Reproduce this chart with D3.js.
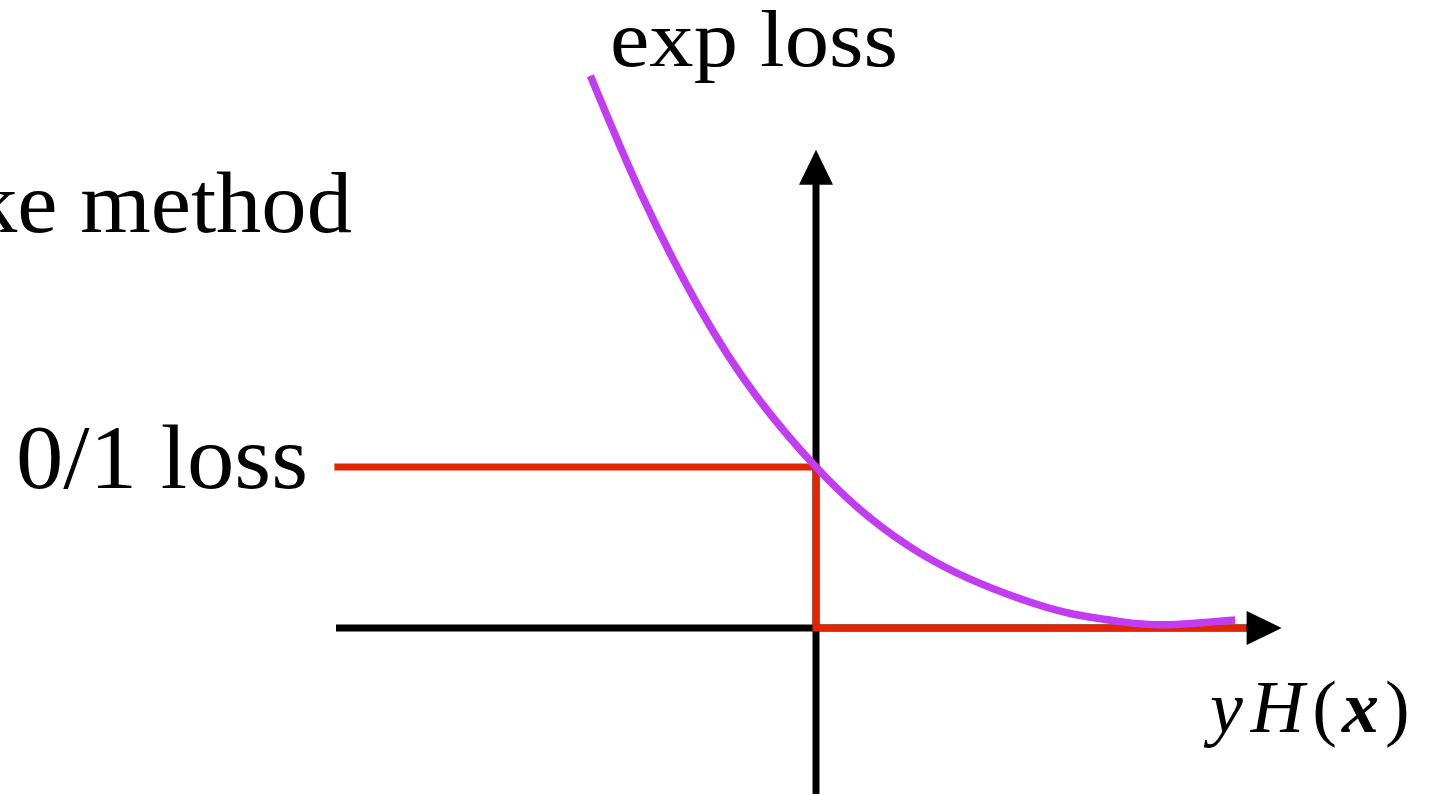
<!DOCTYPE html>
<html>
<head>
  <title>0/1 loss vs exp loss</title>
  <script src="https://d3js.org/d3.v7.min.js"></script>
  <style>
    body { margin: 0; background: #fff; }
    .label { font-family: "Liberation Serif", "Times New Roman", serif; fill: #000; }
  </style>
</head>
<body>
  <svg id="chart"></svg>
  <script>
    // series names
    var seriesNames = ["exp loss", "0/1 loss"];
    var sideLabel = "ke method";

    // exp loss curve (x = yH(x), y = loss)
    var expX = [-1.41, -1.09, -0.73, -0.38, 0, 0.33, 0.65, 0.96, 1.28, 1.59, 1.9, 2.18, 2.62];
    var expY = [3.43, 2.69, 1.99, 1.45, 1.0, 0.69, 0.465, 0.305, 0.18, 0.09, 0.04, 0.02, 0.05];

    // 0/1 loss step
    var stepX = [-3.01, 0, 0, 2.69];
    var stepY = [1, 1, 0, 0];

    // axis extents (data units)
    var xAxisRange = [-3, 2.91];
    var yAxisRange = [-1.05, 2.97];

    var width = 1433, height = 794;

    var svg = d3.select("#chart")
      .attr("width", width)
      .attr("height", height);

    var x = d3.scaleLinear().domain([-3, 3]).range([336, 1296]);
    var y = d3.scaleLinear().domain([0, 1]).range([628, 467]);

    var arrowLen = 35, arrowHalf = 17;

    // axes
    svg.append("line")
      .attr("x1", x(xAxisRange[0]))
      .attr("x2", x(xAxisRange[1]) - arrowLen + 2)
      .attr("y1", y(0)).attr("y2", y(0))
      .attr("stroke", "#000").attr("stroke-width", 7);

    svg.append("line")
      .attr("x1", x(0)).attr("x2", x(0))
      .attr("y1", y(yAxisRange[0]))
      .attr("y2", y(yAxisRange[1]) + arrowLen - 2)
      .attr("stroke", "#000").attr("stroke-width", 7);

    // arrow heads
    var xt = x(xAxisRange[1]), yt = y(0);
    svg.append("path")
      .attr("d", "M" + xt + "," + yt +
        "L" + (xt - arrowLen) + "," + (yt - arrowHalf) +
        "L" + (xt - arrowLen) + "," + (yt + arrowHalf) + "Z")
      .attr("fill", "#000");

    var xu = x(0), yu = y(yAxisRange[1]);
    svg.append("path")
      .attr("d", "M" + xu + "," + yu +
        "L" + (xu - arrowHalf) + "," + (yu + arrowLen) +
        "L" + (xu + arrowHalf) + "," + (yu + arrowLen) + "Z")
      .attr("fill", "#000");

    // 0/1 loss
    var line = d3.line()
      .x(d => x(d[0]))
      .y(d => y(d[1]));

    svg.append("path")
      .datum(stepX.map((d, i) => [d, stepY[i]]))
      .attr("d", line)
      .attr("fill", "none")
      .attr("stroke", "#e22500")
      .attr("stroke-width", 7)
      .attr("stroke-linejoin", "miter");

    // exp loss
    svg.append("path")
      .datum(expX.map((d, i) => [d, expY[i]]))
      .attr("d", line.curve(d3.curveNatural))
      .attr("fill", "none")
      .attr("stroke", "#c23cf2")
      .attr("stroke-width", 7.5);

    // labels
    svg.append("text")
      .attr("class", "label")
      .attr("x", 610).attr("y", 66)
      .attr("font-size", 80)
      .attr("textLength", 288)
      .attr("lengthAdjust", "spacingAndGlyphs")
      .text(seriesNames[0]);

    svg.append("text")
      .attr("class", "label")
      .attr("x", -28).attr("y", 232)
      .attr("font-size", 86)
      .attr("textLength", 380)
      .attr("lengthAdjust", "spacingAndGlyphs")
      .text(sideLabel);

    svg.append("text")
      .attr("class", "label")
      .attr("x", 16).attr("y", 488)
      .attr("font-size", 90)
      .attr("textLength", 292)
      .attr("lengthAdjust", "spacingAndGlyphs")
      .text(seriesNames[1]);

    var axLabel = svg.append("text")
      .attr("class", "label")
      .attr("x", 1210).attr("y", 732)
      .attr("font-size", 74);
    axLabel.append("tspan").attr("font-style", "italic").text("y");
    axLabel.append("tspan").attr("font-style", "italic").attr("dx", 8).text("H");
    axLabel.append("tspan").attr("dx", 8).text("(");
    axLabel.append("tspan").attr("font-style", "italic").attr("font-weight", "bold").attr("dx", 5).text("x");
    axLabel.append("tspan").attr("dx", 6).text(")");
  </script>
</body>
</html>
